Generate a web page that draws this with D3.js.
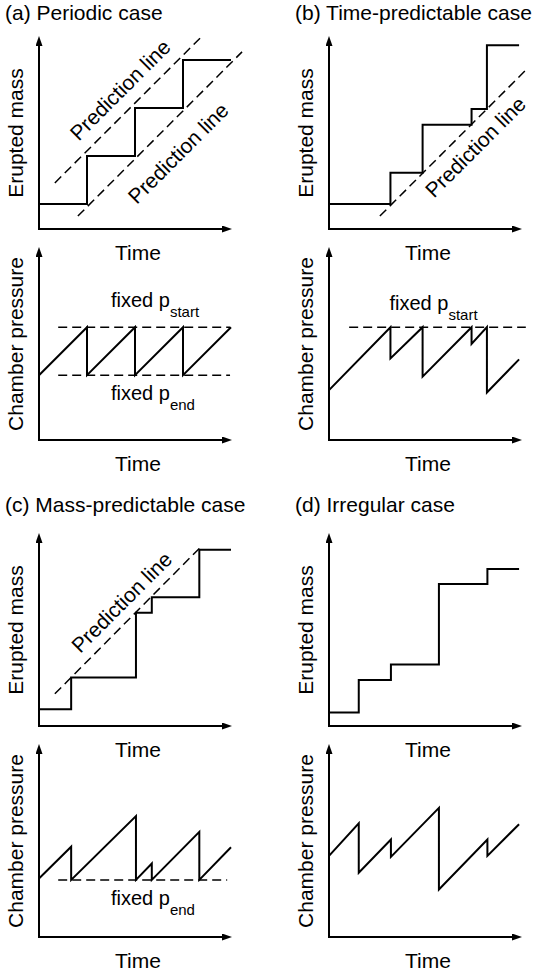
<!DOCTYPE html>
<html>
<head>
<meta charset="utf-8">
<script src="https://cdn.jsdelivr.net/npm/d3@7"></script>
<style>
  html, body { margin: 0; padding: 0; background: #fff; }
  text { font-family: "Liberation Sans", Arial, Helvetica, sans-serif; fill: #000; }
</style>
</head>
<body>
<svg id="chart" width="536" height="975"></svg>
<script>
// titles of the four cases
var titles = ["(a) Periodic case", "(b) Time-predictable case", "(c) Mass-predictable case", "(d) Irregular case"];

// erupted mass, step curves (time, mass)
var massA = [[0, 0.52], [1, 1.52], [2, 2.52], [3, 3.52], [4, 3.52]];
var massB = [[0, 0.52], [1.28, 1.17], [1.95, 2.17], [2.97, 2.5], [3.29, 3.83], [3.96, 3.83]];
var massC = [[0, 0.35], [0.67, 1.01], [2.02, 2.36], [2.35, 2.68], [3.34, 3.67], [4, 3.67]];
var massD = [[0, 0.28], [0.62, 0.96], [1.29, 1.28], [2.29, 2.96], [3.30, 3.27], [3.96, 3.27]];

// chamber pressure, saw-tooth curves (time, pressure)
var pressA = [[0, 1.35], [1, 2.35], [1, 1.35], [2, 2.35], [2, 1.35], [3, 2.35], [3, 1.35], [4, 2.35]];
var pressB = [[0, 1.04], [1.28, 2.35], [1.28, 1.70], [1.95, 2.35], [1.95, 1.32], [2.97, 2.35], [2.97, 2.00], [3.29, 2.35], [3.29, 0.99], [3.96, 1.68]];
var pressC = [[0, 1.22], [0.67, 1.88], [0.67, 1.19], [2.02, 2.52], [2.02, 1.19], [2.35, 1.53], [2.35, 1.19], [3.34, 2.19], [3.34, 1.19], [4, 1.87]];
var pressD = [[0, 1.69], [0.62, 2.37], [0.62, 1.34], [1.29, 2.03], [1.29, 1.67], [2.29, 2.69], [2.29, 0.99], [3.30, 2.03], [3.30, 1.69], [3.96, 2.35]];

// prediction lines (two end points each) and where their labels sit
var predA = [[[0.33, 0.96], [3.40, 4.02]], [[0.81, 0.27], [4.23, 3.69]]];
var predB = [[[1.06, 0.27], [4.11, 3.32]]];
var predC = [[[0.33, 0.67], [3.41, 3.77]]];
var predLabelsA = [[1.69, 2.90], [2.90, 1.58]];
var predLabelsB = [[3.05, 1.71]];
var predLabelsC = [[1.72, 2.58]];

// fixed pressure levels: [level, from, to, subscript, label x, label y]
var fixedA = [[2.35, 0.40, 3.98, "start", 1.5, 2.77], [1.35, 0.40, 3.98, "end", 1.5, 0.83]];
var fixedB = [[2.35, 0.42, 4.10, "start", 1.26, 2.71]];
var fixedC = [[1.19, 0.40, 3.92, "end", 1.5, 0.67]];

var panels = [
    { title: titles[0], mass: massA, press: pressA, pred: predA, predLabels: predLabelsA, fixed: fixedA },
    { title: titles[1], mass: massB, press: pressB, pred: predB, predLabels: predLabelsB, fixed: fixedB },
    { title: titles[2], mass: massC, press: pressC, pred: predC, predLabels: predLabelsC, fixed: fixedC },
    { title: titles[3], mass: massD, press: pressD, pred: [], predLabels: [], fixed: [] }
];

var svg = d3.select("#chart");
var unit = 48; // pixels per data unit on both axes

svg.append("defs").append("marker")
    .attr("id", "arrow")
    .attr("viewBox", "0 0 10 7")
    .attr("refX", 1)
    .attr("refY", 3.5)
    .attr("markerWidth", 10)
    .attr("markerHeight", 7)
    .attr("markerUnits", "userSpaceOnUse")
    .attr("orient", "auto")
    .append("path")
    .attr("d", "M0,0L10,3.5L0,7Z")
    .attr("fill", "#000");

var line = d3.line();

function drawAxes(g, x, y, ylabel) {
    // x axis with arrow
    g.append("line")
        .attr("x1", x(0) - 1).attr("y1", y(0))
        .attr("x2", x(4) - 8).attr("y2", y(0))
        .attr("stroke", "#000").attr("stroke-width", 2)
        .attr("marker-end", "url(#arrow)");
    // y axis with arrow
    g.append("line")
        .attr("x1", x(0)).attr("y1", y(0) + 1)
        .attr("x2", x(0)).attr("y2", y(4) + 8)
        .attr("stroke", "#000").attr("stroke-width", 2)
        .attr("marker-end", "url(#arrow)");

    g.append("text")
        .attr("x", (x(0) + x(4)) / 2 + 3)
        .attr("y", y(0) + 31)
        .attr("text-anchor", "middle")
        .attr("font-size", 21)
        .text("Time");

    g.append("text")
        .attr("transform", "translate(" + (x(0) - 16) + "," + (y(0) + y(4)) / 2 + ")rotate(-90)")
        .attr("text-anchor", "middle")
        .attr("font-size", 21)
        .text(ylabel);
}

panels.forEach(function (p, i) {
    var col = i % 2, row = Math.floor(i / 2);
    var x0 = 39 + col * 290;
    var ybTop = 229 + row * 497;
    var ybBot = ybTop + 211;
    var g = svg.append("g");

    g.append("text")
        .attr("x", x0 - 34)
        .attr("y", row == 0 ? 20 : 512)
        .attr("font-size", 21)
        .text(p.title);

    // erupted mass plot
    var x = d3.scaleLinear().domain([0, 4]).range([x0, x0 + 4 * unit]);
    var yM = d3.scaleLinear().domain([0, 4]).range([ybTop, ybTop - 4 * unit]);
    drawAxes(g, x, yM, "Erupted mass");

    p.pred.forEach(function (seg) {
        g.append("path")
            .attr("d", line(seg.map(function (d) { return [x(d[0]), yM(d[1])]; })))
            .attr("fill", "none")
            .attr("stroke", "#000")
            .attr("stroke-width", 1.5)
            .attr("stroke-dasharray", "9,5");
    });
    p.predLabels.forEach(function (d) {
        g.append("text")
            .attr("transform", "translate(" + x(d[0]) + "," + yM(d[1]) + ")rotate(-45)")
            .attr("text-anchor", "middle")
            .attr("dy", "0.35em")
            .attr("font-size", 21)
            .text("Prediction line");
    });

    g.append("path")
        .attr("d", d3.line().curve(d3.curveStepAfter)
            .x(function (d) { return x(d[0]); })
            .y(function (d) { return yM(d[1]); })(p.mass))
        .attr("fill", "none")
        .attr("stroke", "#000")
        .attr("stroke-width", 2);

    // chamber pressure plot
    var yP = d3.scaleLinear().domain([0, 4]).range([ybBot, ybBot - 4 * unit]);
    drawAxes(g, x, yP, "Chamber pressure");

    p.fixed.forEach(function (f) {
        g.append("line")
            .attr("x1", x(f[1])).attr("x2", x(f[2]))
            .attr("y1", yP(f[0])).attr("y2", yP(f[0]))
            .attr("stroke", "#000")
            .attr("stroke-width", 1.5)
            .attr("stroke-dasharray", "9,5");
        var t = g.append("text")
            .attr("x", x(f[4]))
            .attr("y", yP(f[5]))
            .attr("font-size", 20);
        t.append("tspan").text("fixed p");
        t.append("tspan").attr("dy", 10).attr("font-size", 15).text(f[3]);
    });

    g.append("path")
        .attr("d", line(p.press.map(function (d) { return [x(d[0]), yP(d[1])]; })))
        .attr("fill", "none")
        .attr("stroke", "#000")
        .attr("stroke-width", 2)
        .attr("stroke-linejoin", "miter");
});
</script>
</body>
</html>
